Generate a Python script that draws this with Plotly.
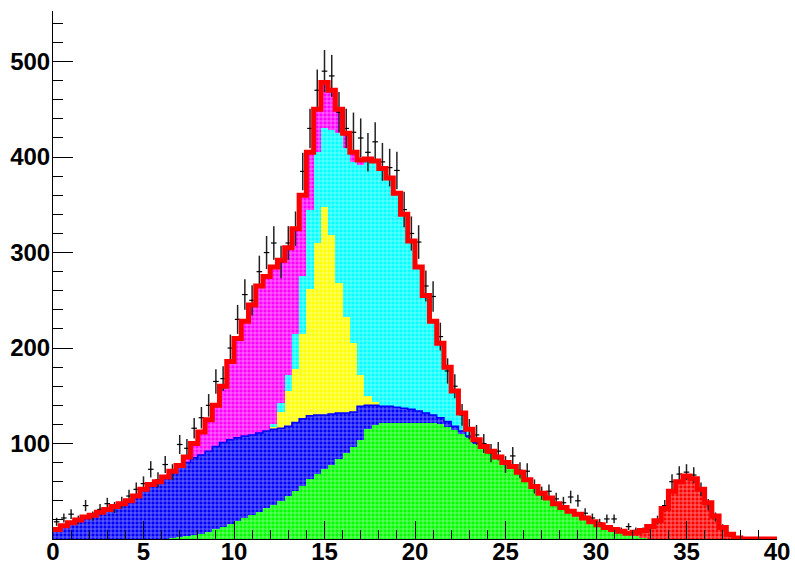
import numpy as np
import plotly.graph_objects as go

# 100 bins from 0 to 40
bin_edges = np.linspace(0, 40, 101)
bin_centers = (bin_edges[:-1] + bin_edges[1:]) / 2

green = [0]*16 + [1,2,3,4,5,7,10,13,16,19,22,25,28,32,
         36,40,45,50,56,63,68,73,78,84,90,96,104,115,119,
         121,122,122,121,121,122,121,121,120,117,114,110,106,100,97,
         92,86,80,76,70,62,55,48,43,37,33,29,26,22,18,
         15,12,10,8,6,3,1] + [0]*18

blue = [10,14,17,20,23,25,28,31,34,37,40,45,52,57,60,
        65,70,75,77,81,83,85,87,88,88,87,86,84,83,81,
        79,76,73,72,70,66,62,57,53,48,42,37,35,25,21,
        18,17,16,16,15,12,11,9,7,6,4,3,2,1] + [0]*41

yellow = [0]*30 + [2,17,37,56,89,133,180,218,187,136,100,72,33,10,3] + [0]*55

cyan = [0]*30 + [3,9,17,37,60,83,95,82,110,157,178,190,220,248,253,
                 249,239,224,203,176,151,123,98,78,57,37,19,7,3] + [0]*41

magenta = [0]*18 + [6,15,24,33,43,59,82,104,120,136,154,162,165,150,133,
                    110,85,60,45,48,42,25,15,10,5] + [0]*57

red = [0]*80 + [4,8,13,19,32,50,60,66,63,52,38,24,12,5,1] + [0]*5

data = [18,22,26,20,35,24,31,37,33,38,
        45,52,58,73,62,78,70,99,95,116,
        127,140,165,168,200,230,256,250,280,300,
        310,290,310,325,385,430,470,490,485,447,
        430,426,420,405,416,395,389,386,345,320,
        311,265,254,212,176,160,130,115,109,100,
        90,92,78,87,72,71,55,48,50,42,
        38,44,40,27,22,17,21,21,9,13,
        9,9,12,20,35,60,68,70,67,52,
        36,23,12,4,1,0,0,0,0,0]

x_tick_vals = [0, 5, 10, 15, 20, 25, 30, 35, 40]
y_tick_vals = [100, 200, 300, 400, 500]

layers = [
    (green, "#00ff00"),
    (blue, "#0000ff"),
    (yellow, "#ffff00"),
    (cyan, "#00ffff"),
    (magenta, "#ff00ff"),
    (red, "#ff0000"),
]

fig = go.Figure()
for vals, col in layers:
    fig.add_bar(
        x=bin_centers, y=vals, width=0.4,
        marker=dict(color=col, line_width=0,
                    pattern=dict(shape="+", fgcolor="white", size=4,
                                 solidity=0.38, fillmode="overlay")),
        hoverinfo="skip",
    )

# blue outline on top of green+blue
gb = np.array(green) + np.array(blue)
nb = 59
fig.add_scatter(x=np.append(bin_edges[:nb], bin_edges[nb]),
                y=np.append(gb[:nb], gb[nb - 1]),
                mode="lines", line=dict(color="#0000ff", width=1.5, shape="hv"))

# data points
d = np.array(data, dtype=float)
mask = d > 0
fig.add_scatter(x=bin_centers[mask], y=d[mask], mode="markers",
                marker=dict(symbol="line-ew", size=4, color="black",
                            line=dict(color="black", width=1.2)),
                error_y=dict(type="data", array=np.sqrt(d[mask]), color="#222222",
                             thickness=1.5, width=0))

# total outline
total = (np.array(green) + np.array(blue) + np.array(yellow) + np.array(cyan)
         + np.array(magenta) + np.array(red))
fig.add_scatter(x=bin_edges, y=np.append(total, total[-1]), mode="lines",
                line=dict(color="#ff0000", width=5, shape="hv"))

tickfont = dict(family="Liberation Sans", size=24, color="black", weight="bold")
fig.update_layout(
    width=795, height=564,
    margin=dict(l=53, r=18, t=11, b=25),
    plot_bgcolor="white", paper_bgcolor="white",
    barmode="stack", bargap=0, showlegend=False,
    xaxis=dict(range=[0, 40], tickmode="array", tickvals=x_tick_vals,
               automargin=False, ticklabelstandoff=-9,
               ticks="inside", ticklen=18, tickwidth=1, tickcolor="black",
               showline=True, linecolor="black", linewidth=1,
               showgrid=False, zeroline=False, tickfont=tickfont,
               minor=dict(ticks="inside", ticklen=9, tickcolor="black",
                          tickmode="array", tickvals=list(range(0, 41)))),
    yaxis=dict(range=[0, 553], tickmode="array", tickvals=y_tick_vals,
               automargin=False, ticklabelstandoff=-3,
               ticks="inside", ticklen=20, tickwidth=1, tickcolor="black",
               showline=True, linecolor="black", linewidth=1,
               showgrid=False, zeroline=False, tickfont=tickfont,
               minor=dict(ticks="inside", ticklen=10, tickcolor="black",
                          tickmode="array", tickvals=list(range(0, 560, 20)))),
)

fig.write_html("out.html", config={"displayModeBar": False},
               post_script="document.body.style.margin='0';document.body.style.overflow='hidden';")
